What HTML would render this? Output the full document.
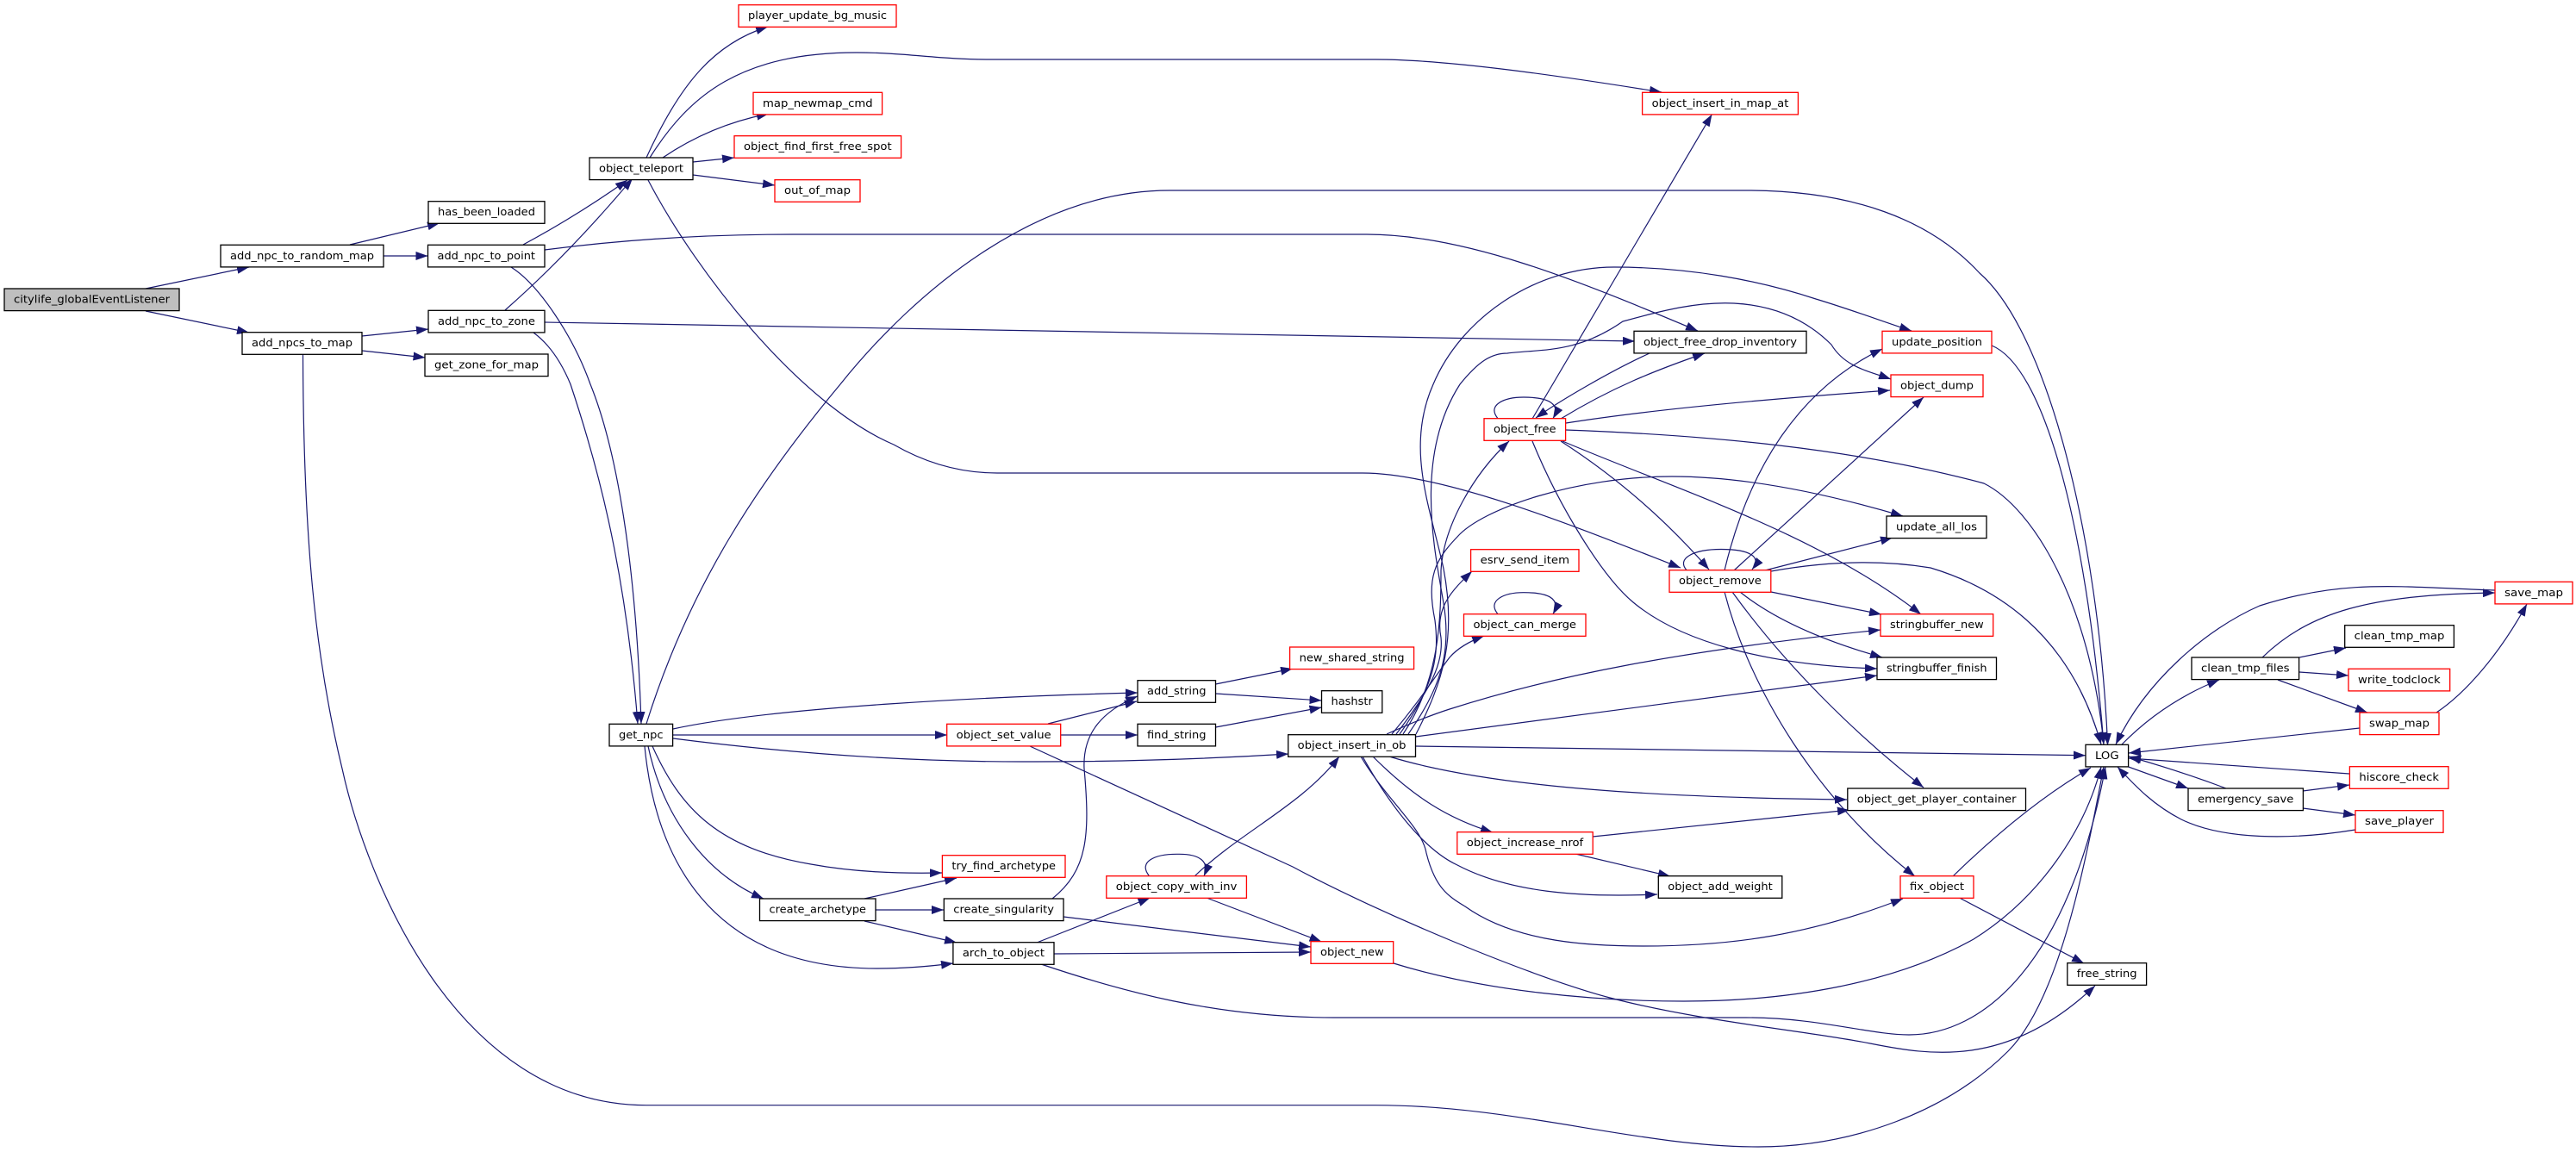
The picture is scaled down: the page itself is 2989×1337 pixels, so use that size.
<!DOCTYPE html>
<html><head><meta charset="utf-8"><style>
html,body{margin:0;padding:0;background:#fff;width:2989px;height:1337px;overflow:hidden}
svg{display:block}
text{font-family:"DejaVu Sans","Liberation Sans",sans-serif;font-size:12.5px;fill:#000;text-anchor:middle}
rect{fill:#fff;stroke:#000;stroke-width:1.3}
rect.r{stroke:#f00}
rect.g{fill:#bfbfbf}
</style></head><body>
<svg xmlns="http://www.w3.org/2000/svg" width="2989" height="1337" viewBox="0 0 2989 1337">
<defs><marker id="a" markerUnits="userSpaceOnUse" markerWidth="14" markerHeight="10" refX="14" refY="5" orient="auto"><path d="M0,0L14,5L0,10z" fill="#191970"/></marker></defs>
<g fill="none" stroke="#191970" stroke-width="1.2" marker-end="url(#a)">
<path d="M169,335L289,310"/>
<path d="M169,361L289,386"/>
<path d="M406,284L510,259"/>
<path d="M445,297L496.500,297"/>
<path d="M420,390L497,382"/>
<path d="M420,407L493.500,415"/>
<path d="M607,284Q670,250 728,209"/>
<path d="M586,360Q660,295 734,207"/>
<path d="M632,290Q770,272 920,272L1586,272C1700,272 1830,325 1970,384"/>
<path d="M632,374L1897,396"/>
<path d="M593,310C625,330 665,390 685,446C715,520 738,650 744,840"/>
<path d="M619,386Q645,405 662,446C690,530 725,650 740,840"/>
<path d="M351.500,411C352,620 365,760 397,892C425,1020 530,1282.700 750,1282.700L1596,1282.700C1760,1282.700 1900,1331 2040,1331C2150,1331 2260,1290 2330,1220C2390,1160 2420,1000 2441,890"/>
<path d="M1208,1119C1300,1150 1410,1181 1548,1181L2026,1181C2110,1181 2170,1201 2215,1201C2300,1201 2400,1120 2443,890"/>
<path d="M1617,1118C1720,1150 1850,1162 1954,1162C2080,1162 2200,1140 2290,1090C2370,1040 2420,960 2438,890"/>
<path d="M2266,1017Q2350,935 2426,891"/>
<path d="M1195,866L1500,1006C1600,1060 1780,1135 1868,1158C1970,1185 2100,1197 2170,1211C2240,1225 2330,1240 2431,1144"/>
<path d="M750,840C800,680 880,560 975,446C1060,340 1200,221 1357,221L2026,221C2150,221 2240,255 2297,317C2375,385 2435,620 2445.600,865"/>
<path d="M781,857Q1000,885 1200,884Q1350,884 1495,875"/>
<path d="M781,853L1099,853"/>
<path d="M781,846C900,820 1160,808 1320,804"/>
<path d="M1216,840L1319,814"/>
<path d="M1231,853L1320,853"/>
<path d="M1221,1043C1262,1010 1265,970 1258,892C1256,850 1280,825 1320,808"/>
<path d="M1410.500,794L1500,776"/>
<path d="M1410.500,805L1533.500,813"/>
<path d="M1410.500,844L1533.500,821"/>
<path d="M757,866C790,940 835,985 941,1003C990,1012 1040,1014 1093,1013"/>
<path d="M752,866C770,950 820,1015 886,1043"/>
<path d="M748,866C760,990 820,1124 1018,1124Q1060,1124 1106,1118"/>
<path d="M1003,1043L1110,1019"/>
<path d="M1016,1056L1095,1056"/>
<path d="M1003,1069L1110,1094"/>
<path d="M1203,1094L1334.500,1042"/>
<path d="M1223,1107L1521,1105"/>
<path d="M1234,1064L1521,1099"/>
<path d="M1400,1042L1533.500,1093"/>
<path d="M1333.500,1016.700C1320,1000 1340,991 1367,991.300C1392,991 1404,1000 1397,1016.700"/>
<path d="M1386,1017C1440,965 1510,935 1554,878"/>
<path d="M750,183C790,95 830,50 891,31"/>
<path d="M754,183C800,110 860,61 994,61C1050,61 1090,69 1147,69L1596,69C1680,69 1810,88 1928,107"/>
<path d="M769,183Q825,145 892,132"/>
<path d="M804,188L852,183"/>
<path d="M804,203L899,215"/>
<path d="M752,209C810,320 930,470 1037,516C1070,535 1110,549 1157,549L1581,549C1680,549 1850,620 1950,659"/>
<path d="M1643,852C1675,790 1690,740 1675,660C1660,590 1630,520 1663,446C1695,370 1780,310 1873,310C1960,310 2040,325 2107,347C2150,360 2190,375 2218,384"/>
<path d="M1634,852C1670,800 1685,760 1675,700C1665,640 1640,530 1694,446C1715,420 1730,410 1749,410C1790,405 1830,410 1883,373C1930,360 1970,350 2012,352C2070,355 2105,380 2125,400C2140,425 2165,430 2194,440"/>
<path d="M1624,852C1665,795 1670,760 1665,720C1655,670 1665,650 1691,623C1720,590 1830,553 1940,553C2020,553 2110,570 2208,599"/>
<path d="M1628,852C1670,790 1672,720 1672,662C1675,610 1710,550 1751,512"/>
<path d="M1620,852C1660,800 1675,770 1672,740C1665,705 1685,685 1708,663"/>
<path d="M1615,852C1650,810 1665,785 1682,763Q1695,748 1722,738"/>
<path d="M1738,712.700C1725,697 1745,687.700 1768,687.700C1795,687.700 1812,694 1802,712.700"/>
<path d="M1609,852C1640,838 1660,830 1682,823C1800,785 1950,755 2182,731"/>
<path d="M1642.500,855L2178,784"/>
<path d="M1642.500,866L2420,876.700"/>
<path d="M1612,878C1700,905 1850,925 2143,928"/>
<path d="M1593,878C1640,925 1680,950 1732,966"/>
<path d="M1581,878C1610,930 1650,985 1691,1004C1750,1035 1830,1042 1923,1038"/>
<path d="M1579,878C1610,930 1650,960 1655,990C1665,1030 1680,1040 1700,1052C1760,1095 1850,1098 1907,1098C2010,1098 2100,1085 2208,1043"/>
<path d="M1848,971L2146,940"/>
<path d="M1828,991L1938,1017"/>
<path d="M2273.500,1042L2418,1118"/>
<path d="M1778,486L1986.400,132.700"/>
<path d="M1914,410C1870,430 1810,465 1782,485"/>
<path d="M1811,486C1870,450 1920,430 1978,410"/>
<path d="M1738,485.700C1725,470 1745,461 1768,461C1795,461 1812,468 1802,485.700"/>
<path d="M1817,491Q1950,470 2193,453"/>
<path d="M1817,499C1980,505 2150,520 2302,561C2360,590 2425,700 2441,864"/>
<path d="M1811,512C1870,550 1930,600 1983,661"/>
<path d="M1813,512C1950,570 2110,620 2229,713"/>
<path d="M1778,512C1810,590 1860,670 1895,699C1950,745 2050,772 2178,776"/>
<path d="M1957,661.700C1945,648 1965,637.500 1997,637.500C2030,637.500 2045,646 2033,661"/>
<path d="M2012,662L2232,461"/>
<path d="M2001,662C2030,540 2090,450 2184,405"/>
<path d="M2048,662L2196,624"/>
<path d="M2055,663Q2155,645 2240,659C2310,680 2400,730 2438,864"/>
<path d="M2055,687L2183,713"/>
<path d="M2019,687C2060,720 2120,745 2184,763"/>
<path d="M2010,687C2070,770 2150,850 2232,914"/>
<path d="M2001,687C2030,800 2110,930 2222,1017"/>
<path d="M2311,401C2370,425 2420,600 2441,864"/>
<path d="M2462,864Q2510,815 2575,789"/>
<path d="M2625,763C2680,710 2750,690 2895,688"/>
<path d="M2668,763L2722,752"/>
<path d="M2668,780L2725,784"/>
<path d="M2643,789L2747,827"/>
<path d="M2827,827C2860,805 2900,760 2932,701"/>
<path d="M2738,845L2470,874"/>
<path d="M2895,685C2780,681 2720,672 2622,703C2560,730 2490,790 2455,864"/>
<path d="M2726,898L2470,880"/>
<path d="M2467,889L2539,915"/>
<path d="M2583,915Q2530,895 2470,878"/>
<path d="M2672,918L2726,911"/>
<path d="M2672,938L2733,946"/>
<path d="M2733,963C2660,975 2580,975 2531,951C2500,935 2480,915 2457,890"/>
</g>
<rect class="g" x="5" y="335" width="203" height="25.600"/><text x="106.500" y="351.500" textLength="181" lengthAdjust="spacingAndGlyphs">citylife_globalEventListener</text>
<rect x="256" y="284.300" width="189" height="25.600"/><text x="350.500" y="300.800" textLength="167" lengthAdjust="spacingAndGlyphs">add_npc_to_random_map</text>
<rect x="497" y="233.700" width="135" height="25.600"/><text x="564.500" y="250.200" textLength="113" lengthAdjust="spacingAndGlyphs">has_been_loaded</text>
<rect x="496.500" y="284.300" width="135.500" height="25.600"/><text x="564.250" y="300.800" textLength="113.500" lengthAdjust="spacingAndGlyphs">add_npc_to_point</text>
<rect x="497" y="360.300" width="135" height="25.600"/><text x="564.500" y="376.800" textLength="113" lengthAdjust="spacingAndGlyphs">add_npc_to_zone</text>
<rect x="281" y="385.700" width="139" height="25.600"/><text x="350.500" y="402.200" textLength="117" lengthAdjust="spacingAndGlyphs">add_npcs_to_map</text>
<rect x="493" y="411" width="143" height="25.600"/><text x="564.500" y="427.500" textLength="121" lengthAdjust="spacingAndGlyphs">get_zone_for_map</text>
<rect x="684" y="183" width="120" height="25.600"/><text x="744" y="199.500" textLength="98" lengthAdjust="spacingAndGlyphs">object_teleport</text>
<rect class="r" x="857" y="5.700" width="183" height="25.600"/><text x="948.500" y="22.200" textLength="161" lengthAdjust="spacingAndGlyphs">player_update_bg_music</text>
<rect class="r" x="874" y="107.300" width="149.600" height="25.600"/><text x="948.800" y="123.800" textLength="127.600" lengthAdjust="spacingAndGlyphs">map_newmap_cmd</text>
<rect class="r" x="852" y="157.700" width="193.600" height="25.600"/><text x="948.800" y="174.200" textLength="171.600" lengthAdjust="spacingAndGlyphs">object_find_first_free_spot</text>
<rect class="r" x="899" y="208.700" width="99" height="25.600"/><text x="948.500" y="225.200" textLength="77" lengthAdjust="spacingAndGlyphs">out_of_map</text>
<rect class="r" x="1905.600" y="107.300" width="180.800" height="25.600"/><text x="1996" y="123.800" textLength="158.800" lengthAdjust="spacingAndGlyphs">object_insert_in_map_at</text>
<rect x="1896" y="384.300" width="200" height="25.600"/><text x="1996" y="400.800" textLength="178" lengthAdjust="spacingAndGlyphs">object_free_drop_inventory</text>
<rect class="r" x="2184" y="384.300" width="127" height="25.600"/><text x="2247.500" y="400.800" textLength="105" lengthAdjust="spacingAndGlyphs">update_position</text>
<rect class="r" x="2194" y="435" width="107" height="25.600"/><text x="2247.500" y="451.500" textLength="85" lengthAdjust="spacingAndGlyphs">object_dump</text>
<rect x="707" y="840.300" width="73.600" height="25.600"/><text x="743.800" y="856.800" textLength="51.600" lengthAdjust="spacingAndGlyphs">get_npc</text>
<rect class="r" x="1098.700" y="840.300" width="132" height="25.600"/><text x="1164.700" y="856.800" textLength="110" lengthAdjust="spacingAndGlyphs">object_set_value</text>
<rect x="1320" y="789.700" width="90.500" height="25.600"/><text x="1365.250" y="806.200" textLength="68.500" lengthAdjust="spacingAndGlyphs">add_string</text>
<rect x="1320" y="840.300" width="90.500" height="25.600"/><text x="1365.250" y="856.800" textLength="68.500" lengthAdjust="spacingAndGlyphs">find_string</text>
<rect class="r" x="1496.600" y="751" width="144" height="25.600"/><text x="1568.600" y="767.500" textLength="122" lengthAdjust="spacingAndGlyphs">new_shared_string</text>
<rect x="1533.500" y="801.700" width="70.300" height="25.600"/><text x="1568.650" y="818.200" textLength="48.300" lengthAdjust="spacingAndGlyphs">hashstr</text>
<rect x="1494.700" y="852.700" width="147.800" height="25.600"/><text x="1568.600" y="869.200" textLength="125.800" lengthAdjust="spacingAndGlyphs">object_insert_in_ob</text>
<rect class="r" x="1722" y="485.700" width="94.600" height="25.600"/><text x="1769.300" y="502.200" textLength="72.600" lengthAdjust="spacingAndGlyphs">object_free</text>
<rect class="r" x="1706.600" y="637.700" width="125.400" height="25.600"/><text x="1769.300" y="654.200" textLength="103.400" lengthAdjust="spacingAndGlyphs">esrv_send_item</text>
<rect class="r" x="1698.500" y="712.700" width="141.500" height="25.600"/><text x="1769.250" y="729.200" textLength="119.500" lengthAdjust="spacingAndGlyphs">object_can_merge</text>
<rect class="r" x="1937" y="661.700" width="117.800" height="25.600"/><text x="1995.900" y="678.200" textLength="95.800" lengthAdjust="spacingAndGlyphs">object_remove</text>
<rect x="2189" y="599" width="116" height="25.600"/><text x="2247" y="615.500" textLength="94" lengthAdjust="spacingAndGlyphs">update_all_los</text>
<rect class="r" x="2182" y="712.700" width="130.700" height="25.600"/><text x="2247.350" y="729.200" textLength="108.700" lengthAdjust="spacingAndGlyphs">stringbuffer_new</text>
<rect x="2178" y="763" width="138.500" height="25.600"/><text x="2247.250" y="779.500" textLength="116.500" lengthAdjust="spacingAndGlyphs">stringbuffer_finish</text>
<rect x="2420" y="864.300" width="49.600" height="25.600"/><text x="2444.800" y="880.800" textLength="27.600" lengthAdjust="spacingAndGlyphs">LOG</text>
<rect x="2543" y="763" width="124.600" height="25.600"/><text x="2605.300" y="779.500" textLength="102.600" lengthAdjust="spacingAndGlyphs">clean_tmp_files</text>
<rect class="r" x="2895" y="675.300" width="90" height="25.600"/><text x="2940" y="691.800" textLength="68" lengthAdjust="spacingAndGlyphs">save_map</text>
<rect x="2720.700" y="725.700" width="126.700" height="25.600"/><text x="2784.050" y="742.200" textLength="104.700" lengthAdjust="spacingAndGlyphs">clean_tmp_map</text>
<rect class="r" x="2725" y="776.300" width="117.700" height="25.600"/><text x="2783.850" y="792.800" textLength="95.700" lengthAdjust="spacingAndGlyphs">write_todclock</text>
<rect class="r" x="2738" y="827" width="92" height="25.600"/><text x="2784" y="843.500" textLength="70" lengthAdjust="spacingAndGlyphs">swap_map</text>
<rect class="r" x="2726.400" y="889.700" width="114.600" height="25.600"/><text x="2783.700" y="906.200" textLength="92.600" lengthAdjust="spacingAndGlyphs">hiscore_check</text>
<rect x="2539" y="915" width="133.400" height="25.600"/><text x="2605.700" y="931.500" textLength="111.400" lengthAdjust="spacingAndGlyphs">emergency_save</text>
<rect class="r" x="2733" y="940.700" width="102" height="25.600"/><text x="2784" y="957.200" textLength="80" lengthAdjust="spacingAndGlyphs">save_player</text>
<rect x="2398.800" y="1117.700" width="91.800" height="25.600"/><text x="2444.700" y="1134.200" textLength="69.800" lengthAdjust="spacingAndGlyphs">free_string</text>
<rect x="2143.800" y="915" width="206.700" height="25.600"/><text x="2247.150" y="931.500" textLength="184.700" lengthAdjust="spacingAndGlyphs">object_get_player_container</text>
<rect class="r" x="2205" y="1016.700" width="85" height="25.600"/><text x="2247.500" y="1033.200" textLength="63" lengthAdjust="spacingAndGlyphs">fix_object</text>
<rect x="881.500" y="1043" width="134.500" height="25.600"/><text x="948.750" y="1059.500" textLength="112.500" lengthAdjust="spacingAndGlyphs">create_archetype</text>
<rect class="r" x="1093.400" y="992.700" width="142.600" height="25.600"/><text x="1164.700" y="1009.200" textLength="120.600" lengthAdjust="spacingAndGlyphs">try_find_archetype</text>
<rect x="1095.300" y="1043" width="138.700" height="25.600"/><text x="1164.650" y="1059.500" textLength="116.700" lengthAdjust="spacingAndGlyphs">create_singularity</text>
<rect x="1105.900" y="1093.700" width="117.100" height="25.600"/><text x="1164.450" y="1110.200" textLength="95.100" lengthAdjust="spacingAndGlyphs">arch_to_object</text>
<rect class="r" x="1283.800" y="1016.700" width="162.600" height="25.600"/><text x="1365.100" y="1033.200" textLength="140.600" lengthAdjust="spacingAndGlyphs">object_copy_with_inv</text>
<rect class="r" x="1690.800" y="965.700" width="157.400" height="25.600"/><text x="1769.500" y="982.200" textLength="135.400" lengthAdjust="spacingAndGlyphs">object_increase_nrof</text>
<rect x="1924.300" y="1016.700" width="143.500" height="25.600"/><text x="1996.050" y="1033.200" textLength="121.500" lengthAdjust="spacingAndGlyphs">object_add_weight</text>
<rect class="r" x="1521" y="1092.700" width="95.700" height="25.600"/><text x="1568.850" y="1109.200" textLength="73.700" lengthAdjust="spacingAndGlyphs">object_new</text>
</svg>
</body></html>
